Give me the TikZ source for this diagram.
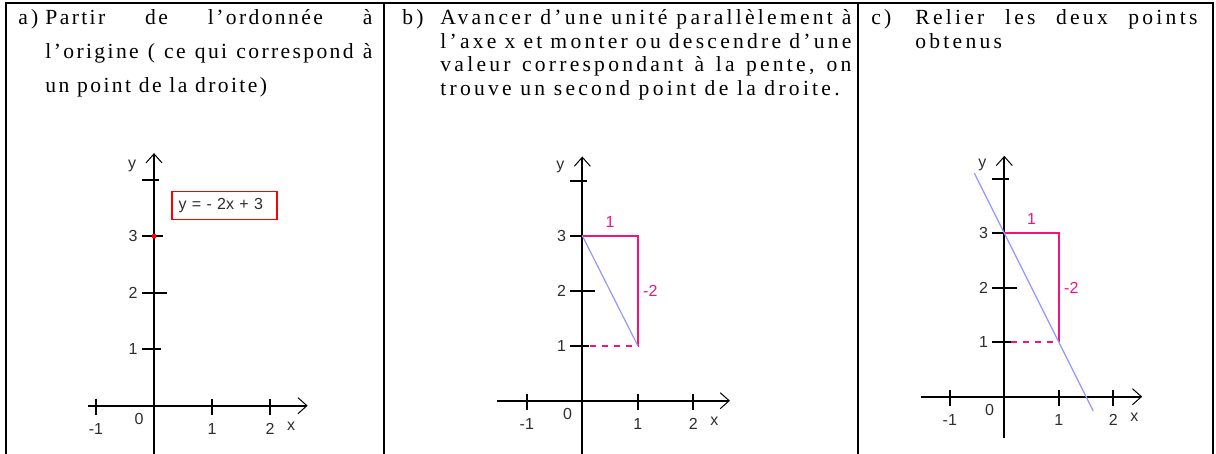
\documentclass[tikz,border=0pt]{standalone}
\usepackage{fontspec}
\setmainfont{Liberation Serif}
\newfontfamily\texte[LetterSpace=15]{Liberation Serif}
\newfontfamily\textea[LetterSpace=11]{Liberation Serif}
\newfontfamily\chiffres{Liberation Sans}
\usepackage{tikz}
\usetikzlibrary{positioning}
\usetikzlibrary{arrows.meta}
\tikzset{>={Straight Barb[length=4.5pt,width=8pt,line width=0.5pt]}}
\definecolor{rose}{RGB}{240,20,125}
\definecolor{bleu}{RGB}{150,150,255}
\definecolor{gris}{RGB}{45,45,45}
\tolerance=10000
\pretolerance=-1
\hyphenpenalty=10000

% repere : prefixe, xmin, xmax, ymin, ymax
\newcommand{\repere}[5]{%
  \coordinate (#1-o) at (0,0);
  \coordinate (#1-xdeb) at (#2,0);
  \coordinate (#1-xfin) at (#3,0);
  \coordinate (#1-ydeb) at (0,#4);
  \coordinate (#1-yfin) at (0,#5);
  \draw[axe,->] (#1-xdeb) -- (#1-xfin);
  \draw[axe,->] (#1-ydeb) -- (#1-yfin);
  \foreach \x in {-1,1,2} {
    \coordinate (#1-gx\x) at (\x,0);
    \draw[axe] ([yshift=3.5pt]#1-gx\x) -- ([yshift=-4.5pt]#1-gx\x);
    \node[grad, below=8.5pt of #1-gx\x] (#1-nx\x) {\x};
  }
  \foreach \y/\d in {1/3.5pt,2/6.5pt,3/4.5pt,4/2.5pt} {
    \coordinate (#1-gy\y) at (0,\y);
    \draw[axe] ([xshift=-6pt]#1-gy\y) -- ([xshift=\d]#1-gy\y);
  }
  \foreach \y in {1,2,3}
    \node[grad, left=8pt of #1-gy\y] (#1-ny\y) {\y};
  \node[grad, below left=3.5pt and 5pt of #1-o] (#1-n0) {0};
  \node[grad] (#1-nx) at ([xshift=10.5pt,yshift=-10.5pt]#1-gx2) {x};
  \node[grad] (#1-ny) at ([xshift=-11pt,yshift=7pt]#1-gy4) {y};
}

\begin{document}
\begin{tikzpicture}[x=0.5pt, y=-0.5pt,
  cadre/.style={line width=1.2pt},
  axe/.style={line width=0.9pt, black},
  grad/.style={font=\chiffres\fontsize{8}{9}\selectfont, text=gris, inner sep=0pt},
  etiquette/.style={font=\texte\fontsize{10.8}{11.75}\selectfont, anchor=base west, inner sep=0pt},
  texte/.style={font=\texte\fontsize{10.8}{11.75}\selectfont, anchor=base west, inner sep=0pt, align=justify},
  pente/.style={rose, line width=0.9pt},
  pointille/.style={rose, line width=0.9pt, dash pattern=on 3pt off 3pt},
  droite/.style={bleu, line width=0.6pt},
  rosetxt/.style={font=\chiffres\fontsize{8}{9}\selectfont, text=rose, inner sep=0pt},
  equation/.style={draw=red, line width=0.7pt, font=\chiffres\fontsize{8}{9}\selectfont, text=gris, text width=46pt, inner xsep=3.3pt, minimum height=13.8pt, align=left},
  pointrouge/.style={circle, fill=red, inner sep=0pt, minimum size=2.5pt}]

    \useasboundingbox (0,0) rectangle (1216,454);

    %Cadre
    \coordinate (bg) at (6,454);
    \coordinate (hg) at (6,3);
    \coordinate (hd) at (1213,3);
    \coordinate (bd) at (1213,454);
    \coordinate (h1) at (384,3);
    \coordinate (b1) at (384,454);
    \coordinate (h2) at (858,3);
    \coordinate (b2) at (858,454);
    \draw[cadre] (bg) -- (hg) -- (hd) -- (bd);
    \draw[cadre] (h1) -- (b1);
    \draw[cadre] (h2) -- (b2);

    %Textes
    \node[etiquette] (la) at (18,25) {a)};
    \node[texte, text width=163.5pt, font=\textea\fontsize{10.8}{17}\selectfont] (ta) at (45,25) {Partir de l’ordonnée à\linebreak l’origine ( ce qui correspond à\linebreak un point de la droite)};
    \node[etiquette] (lb) at (402,25) {b)};
    \node[texte, text width=205.5pt] (tb) at (440,25) {Avancer d’une unité parallèlement à\linebreak l’axe x et monter ou descendre d’une\linebreak valeur correspondant à la pente, on\linebreak trouve un second point de la droite.};
    \node[etiquette] (lc) at (871,25) {c)};
    \node[texte, text width=141pt] (tc) at (915,25) {Relier les deux points\linebreak obtenus};

    %Graphique a
    \begin{scope}[shift={(154,405.7)}, x=29pt, y=28.25pt]
      \repere{a}{-1.14}{2.65}{-0.86}{4.47}
      \node[pointrouge] (a-p) at (0,3) {};
      \node[equation] (a-eq) at (1.216,3.543) {y = - 2x + 3};
    \end{scope}

    %Graphique b
    \begin{scope}[shift={(582.3,400.7)}, x=27.75pt, y=27.5pt]
      \repere{b}{-1.54}{2.66}{-0.97}{4.44}
      \coordinate (b-A) at (0,3);
      \coordinate (b-C) at (1,3);
      \coordinate (b-B) at (1,1);
      \coordinate (b-D) at (0.13,1);
      \coordinate (b-m) at (0.5,3);
      \coordinate (b-v) at (1,2);
      \draw[pente] (b-A) -- (b-C) -- (b-B);
      \draw[pointille] (b-D) -- (b-B);
      \draw[droite] (b-A) -- (b-B);
      \node[rosetxt, above=4pt of b-m] (b-un) {1};
      \node[rosetxt, right=2.5pt of b-v] (b-deux) {-2};
    \end{scope}

    %Graphique c
    \begin{scope}[shift={(1004.3,396.7)}, x=27.25pt, y=27.25pt]
      \repere{c}{-1.52}{2.53}{-0.76}{4.42}
      \coordinate (c-A) at (0,3);
      \coordinate (c-C) at (1,3);
      \coordinate (c-B) at (1,1);
      \coordinate (c-D) at (0.13,1);
      \coordinate (c-m) at (0.5,3);
      \coordinate (c-v) at (1,2);
      \coordinate (c-d1) at (-0.55,4.1);
      \coordinate (c-d2) at (1.63,-0.26);
      \draw[pente] (c-A) -- (c-C) -- (c-B);
      \draw[pointille] (c-D) -- (c-B);
      \draw[droite] (c-d1) -- (c-d2);
      \node[rosetxt, above=4pt of c-m] (c-un) {1};
      \node[rosetxt, right=2.5pt of c-v] (c-deux) {-2};
    \end{scope}

\end{tikzpicture}
\end{document}
